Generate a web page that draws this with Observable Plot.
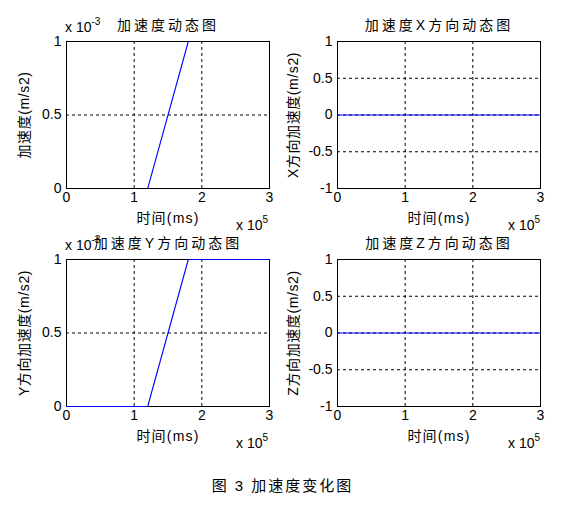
<!DOCTYPE html>
<html>
<head>
<meta charset="utf-8">
<script src="https://cdn.jsdelivr.net/npm/d3@7"></script>
<script src="https://cdn.jsdelivr.net/npm/@observablehq/plot@0.6"></script>
<style>
  body { margin: 0; background: white; }
  #fig { position: relative; width: 565px; height: 518px; background: white; overflow: hidden; }
  #fig svg { position: absolute; overflow: visible; }
  .exp { position: absolute; font: 14px "Liberation Sans", Arial, sans-serif; color: black; white-space: nowrap; }
  .exp sup { font-size: 10px; vertical-align: 7px; }
  #caption { position: absolute; left: 0; width: 565px; top: 474px; text-align: center; font: 15px "Liberation Sans", "Noto Sans CJK SC", sans-serif; letter-spacing: 2px; color: black; }
</style>
</head>
<body>
<div id="fig"></div>
<script>
// Data (time in ms, acceleration in m/s2)
const timeMs = [0, 120000, 180000, 300000];
const accTotal = [0, 0, 0.001, 0.003];
const accX = [0, 0, 0, 0];
const accY = [0, 0, 0.001, 0.001];
const accZ = [0, 0, 0, 0];
const xTicks = [0, 100000, 200000, 300000];
const yTicksSmall = [0, 0.0005, 0.001];
const yTicksUnit = [-1, -0.5, 0, 0.5, 1];

const titles = ["加速度动态图", "加速度X方向动态图", "加速度Y方向动态图", "加速度Z方向动态图"];
const yLabels = ["加速度(m/s2)", "X方向加速度(m/s2)", "Y方向加速度(m/s2)", "Z方向加速度(m/s2)"];
const xLabel = "时间(ms)";
const caption = "图 3  加速度变化图";

const fig = document.getElementById("fig");
const latin = '"Liberation Sans", Arial, sans-serif';
const mixed = '"Liberation Sans", "Noto Sans CJK SC", sans-serif';

function panel(values, yDomain, yTicks, yFmt, title, yLabel, pos) {
  const data = timeMs.map((t, i) => ({t, v: values[i]}));
  const chart = Plot.plot({
    width: pos.w, height: 230,
    marginLeft: pos.ml, marginRight: pos.mr, marginTop: 41, marginBottom: 42,
    style: {background: "transparent", color: "black", fontFamily: latin, fontSize: "14px", overflow: "visible"},
    x: {domain: [0, 300000]},
    y: {domain: yDomain},
    marks: [
      Plot.gridX([100000, 200000], {stroke: "black", strokeOpacity: 1, strokeDasharray: "3,3"}),
      Plot.gridY(yTicks.filter(d => d !== yDomain[0] && d !== yDomain[1]), {stroke: "black", strokeOpacity: 1, strokeDasharray: "3,3"}),
      Plot.frame({stroke: "black", strokeWidth: 1}),
      Plot.line(data, {x: "t", y: "v", stroke: "#0000ff", strokeWidth: 1.1, clip: pos.clip}),
      Plot.axisX(xTicks, {tickFormat: d => String(d / 1e5), tickSize: 0, tickPadding: 4, label: null, fontSize: 14, fontFamily: latin}),
      Plot.axisY(yTicks, {tickFormat: yFmt, tickSize: 0, tickPadding: 5, label: null, fontSize: 14, fontFamily: latin}),
      Plot.text([title], {frameAnchor: "top", dy: -16, textAnchor: "middle", lineAnchor: "middle", fontFamily: mixed, fontSize: 14, fill: "black"}),
      Plot.text([xLabel], {frameAnchor: "bottom", dy: 30, textAnchor: "middle", lineAnchor: "middle", fontFamily: mixed, fontSize: 14, fill: "black"}),
      Plot.text([yLabel], {frameAnchor: "left", dx: pos.ydx, rotate: -90, textAnchor: "middle", lineAnchor: "middle", fontFamily: mixed, fontSize: 14, fill: "black"})
    ]
  });
  chart.querySelectorAll("text").forEach(t => {
    const s = t.textContent;
    if (s === title) t.style.letterSpacing = "3px";
    else if (s === xLabel) t.style.letterSpacing = "1.2px";
    else if (s === yLabel) t.style.letterSpacing = "0.6px";
  });
  chart.style.left = pos.left + "px";
  chart.style.top = pos.top + "px";
  fig.appendChild(chart);
}

const fmtSmall = d => String(Math.round(d * 1e4) / 10);
const fmtUnit = d => String(d);

panel(accTotal, [0, 0.001], yTicksSmall, fmtSmall, titles[0], yLabels[0], {left: 0, top: 0, w: 282, ml: 66, mr: 13, ydx: -42, clip: true});
panel(accX, [-1, 1], yTicksUnit, fmtUnit, titles[1], yLabels[1], {left: 282, top: 0, w: 283, ml: 55, mr: 25, ydx: -44, clip: false});
panel(accY, [0, 0.001], yTicksSmall, fmtSmall, titles[2], yLabels[2], {left: 0, top: 218, w: 282, ml: 66, mr: 13, ydx: -42, clip: false});
panel(accZ, [-1, 1], yTicksUnit, fmtUnit, titles[3], yLabels[3], {left: 282, top: 218, w: 283, ml: 55, mr: 25, ydx: -44, clip: false});

function exp(text, power, left, top) {
  const d = document.createElement("div");
  d.className = "exp";
  d.style.left = left + "px";
  d.style.top = top + "px";
  d.innerHTML = text + "<sup>" + power + "</sup>";
  fig.appendChild(d);
}
exp("x 10", "-3", 65, 16);
exp("x 10", "-3", 65, 234);
exp("x 10", "5", 236, 214);
exp("x 10", "5", 508, 214);
exp("x 10", "5", 236, 432);
exp("x 10", "5", 508, 432);

const cap = document.createElement("div");
cap.id = "caption";
cap.textContent = caption;
fig.appendChild(cap);
</script>
</body>
</html>
